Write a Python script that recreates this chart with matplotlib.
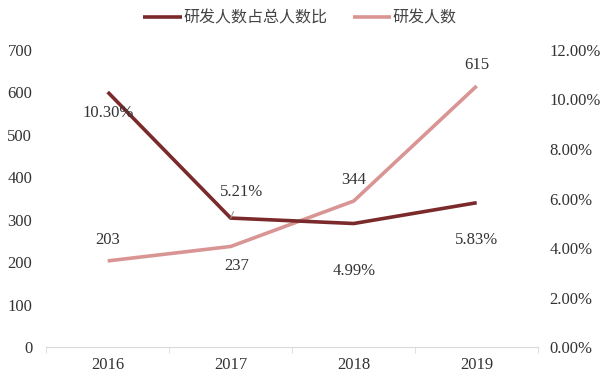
import matplotlib
matplotlib.use("Agg")
import matplotlib.pyplot as plt

plt.rcParams['font.family'] = ['Liberation Serif', 'Noto Sans CJK SC']

years = ["2016", "2017", "2018", "2019"]
ratio = [10.30, 5.21, 4.99, 5.83]
staff = [203, 237, 344, 615]
ratio_labels = ["10.30%", "5.21%", "4.99%", "5.83%"]
staff_labels = ["203", "237", "344", "615"]

c_dark = "#7B2A2C"
c_pink = "#D99594"

fig = plt.figure(figsize=(6, 3.81), dpi=100)
ax = fig.add_axes([0.077, 0.089, 0.82, 0.78])
ax2 = ax.twinx()

x = list(range(len(years)))
l1, = ax2.plot(x, ratio, color=c_dark, lw=2.6, solid_capstyle='butt', zorder=3)
l2, = ax.plot(x, staff, color=c_pink, lw=2.6, solid_capstyle='butt', zorder=2)

ax.set_xlim(-0.5, 3.5)
ax.set_ylim(0, 700)
ax.set_yticks(range(0, 701, 100))
ax2.set_ylim(0, 12)
ax2.set_yticks([0, 2, 4, 6, 8, 10, 12])
ax2.set_yticklabels([f"{v:.2f}%" for v in [0, 2, 4, 6, 8, 10, 12]])
ax.set_xticks(x)
ax.set_xticklabels(years)
ax.set_xticks([-0.5, 0.5, 1.5, 2.5, 3.5], minor=True)

fs = 12
tc = '#333333'
for a in (ax, ax2):
    for s in a.spines.values():
        s.set_visible(False)
    a.tick_params(axis='y', length=0, labelsize=fs, colors=tc)
ax.spines['bottom'].set_visible(True)
ax.spines['bottom'].set_color('#D9D9D9')
ax.tick_params(axis='x', which='major', length=0, labelsize=fs, colors=tc, pad=7)
ax.tick_params(axis='x', which='minor', length=4, color='#D9D9D9')
ax.tick_params(axis='y', pad=10)
ax2.tick_params(axis='y', pad=8)

ax.patch.set_visible(False)

# ratio labels
ax2.annotate(ratio_labels[0], (0, ratio[0]), xytext=(0, -15), textcoords='offset points', ha='center', va='center', fontsize=fs, color=tc)
ax2.annotate(ratio_labels[1], (1, ratio[1]), xytext=(8, 19), textcoords='offset points', ha='center', va='center', fontsize=fs, color=tc,
             arrowprops=dict(arrowstyle='-', color='#999999', lw=0.8, shrinkA=7, shrinkB=0))
ax2.annotate(ratio_labels[2], (2, ratio[2]), xytext=(0, -34), textcoords='offset points', ha='center', va='center', fontsize=fs, color=tc)
ax2.annotate(ratio_labels[3], (3, ratio[3]), xytext=(0, -27), textcoords='offset points', ha='center', va='center', fontsize=fs, color=tc)
# staff labels
ax.annotate(staff_labels[0], (0, staff[0]), xytext=(0, 15), textcoords='offset points', ha='center', va='center', fontsize=fs, color=tc)
ax.annotate(staff_labels[1], (1, staff[1]), xytext=(4, -14), textcoords='offset points', ha='center', va='center', fontsize=fs, color=tc)
ax.annotate(staff_labels[2], (2, staff[2]), xytext=(0, 15), textcoords='offset points', ha='center', va='center', fontsize=fs, color=tc)
ax.annotate(staff_labels[3], (3, staff[3]), xytext=(0, 15), textcoords='offset points', ha='center', va='center', fontsize=fs, color=tc)

fig.legend([l1, l2], ["研发人数占总人数比", "研发人数"], loc='center', bbox_to_anchor=(0.5, 0.952), ncol=2,
           frameon=False, fontsize=11.5, handlelength=2.4, columnspacing=1.6, handletextpad=0.1,
           labelcolor='#444444')

fig.savefig("out.png", dpi=100)
